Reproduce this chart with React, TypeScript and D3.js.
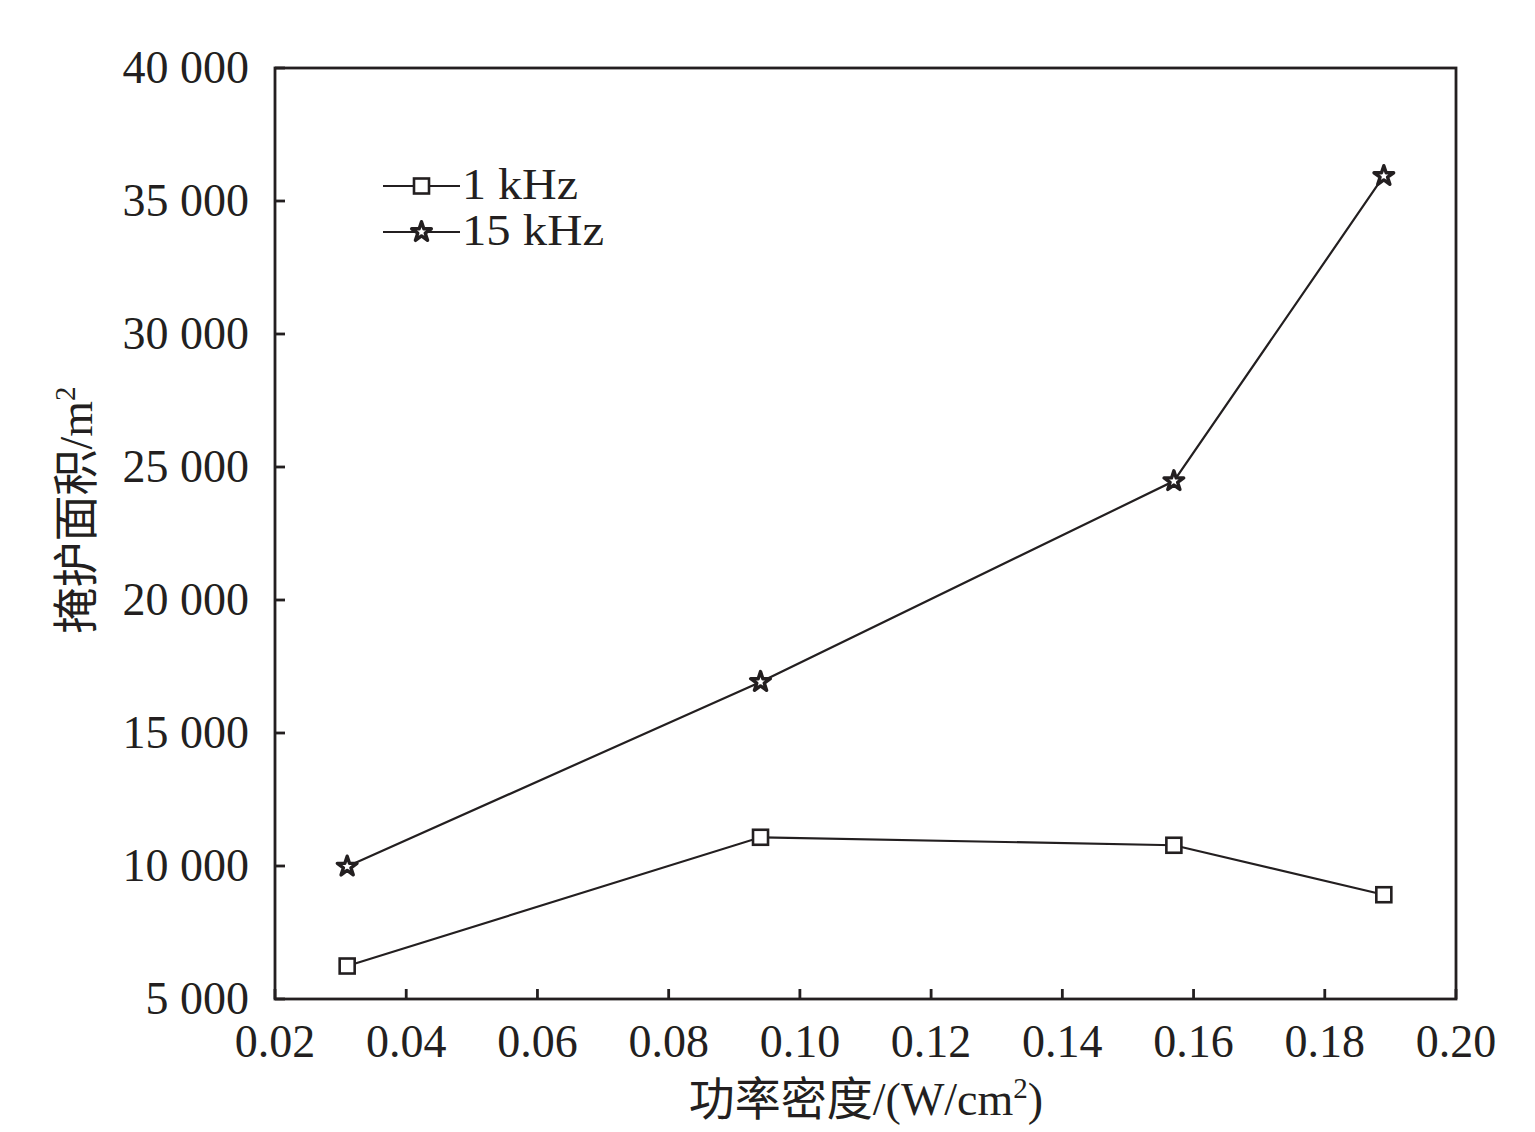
import React from "react";
import * as d3 from "d3";

const xValues = [0.031, 0.094, 0.157, 0.189];
const series1k = [6240, 11080, 10780, 8920];
const series15k = [9980, 16920, 24470, 35940];
const seriesNames = ["1 kHz", "15 kHz"];
const xTicks = [0.02, 0.04, 0.06, 0.08, 0.1, 0.12, 0.14, 0.16, 0.18, 0.2];
const yTicks = [5000, 10000, 15000, 20000, 25000, 30000, 35000, 40000];

const W = 1535, H = 1132;
const m = { left: 275, top: 68, right: 1456, bottom: 999 };
const font = "'Liberation Serif', 'Times New Roman', 'Noto Sans CJK SC', serif";
const ink = "#231f20";

function fmtY(v: number) {
  const s = String(v);
  return s.length > 3 ? s.slice(0, s.length - 3) + " " + s.slice(-3) : s;
}

function Square({ x, y }: { x: number; y: number }) {
  const s = 15;
  return <rect x={x - s / 2} y={y - s / 2} width={s} height={s} fill="#fff" stroke={ink} strokeWidth={2.6} />;
}

function Star({ x, y }: { x: number; y: number }) {
  const d = d3.symbol().type(d3.symbolStar).size(120)();
  return <path d={d || ""} transform={`translate(${x},${y})`} fill="#fff" stroke={ink} strokeWidth={3.4} strokeLinejoin="round" />;
}

export default function App() {
  const x = d3.scaleLinear().domain([0.02, 0.2]).range([m.left, m.right]);
  const y = d3.scaleLinear().domain([5000, 40000]).range([m.bottom, m.top]);
  const line = d3.line<[number, number]>().x(d => x(d[0])).y(d => y(d[1]));
  const d1 = xValues.map((v, i) => [v, series1k[i]] as [number, number]);
  const d2 = xValues.map((v, i) => [v, series15k[i]] as [number, number]);

  const legendX1 = 383, legendX2 = 460;
  const legendY = [186, 232];

  return (
    <svg width={W} height={H} style={{ display: "block", position: "absolute", left: 0, top: 0, background: "#fff" }} fontFamily={font}>
      <rect x={0} y={0} width={W} height={H} fill="#fff" />
      {/* frame */}
      <rect x={m.left} y={m.top} width={m.right - m.left} height={m.bottom - m.top} fill="none" stroke={ink} strokeWidth={2.8} />
      {/* x ticks */}
      {xTicks.map(t => (
        <g key={"x" + t}>
          <line x1={x(t)} x2={x(t)} y1={m.bottom} y2={m.bottom - 10} stroke={ink} strokeWidth={2.8} />
          <text x={x(t)} y={1057} textAnchor="middle" fontSize={46} fill={ink}>{t.toFixed(2)}</text>
        </g>
      ))}
      {/* y ticks */}
      {yTicks.map(t => (
        <g key={"y" + t}>
          <line x1={m.left} x2={m.left + 10} y1={y(t)} y2={y(t)} stroke={ink} strokeWidth={2.8} />
          <text x={249} y={y(t) + 15} textAnchor="end" fontSize={46} fill={ink}>{fmtY(t)}</text>
        </g>
      ))}
      {/* lines */}
      <path d={line(d1) || ""} fill="none" stroke={ink} strokeWidth={2.2} />
      <path d={line(d2) || ""} fill="none" stroke={ink} strokeWidth={2.2} />
      {d1.map((p, i) => <Square key={"s" + i} x={x(p[0])} y={y(p[1])} />)}
      {d2.map((p, i) => <Star key={"t" + i} x={x(p[0])} y={y(p[1])} />)}
      {/* legend */}
      {seriesNames.map((n, i) => (
        <g key={n}>
          <line x1={legendX1} x2={legendX2} y1={legendY[i]} y2={legendY[i]} stroke={ink} strokeWidth={2.2} />
          {i === 0 ? <Square x={(legendX1 + legendX2) / 2} y={legendY[i]} /> : <Star x={(legendX1 + legendX2) / 2} y={legendY[i]} />}
          <text x={462} y={legendY[i] + 13} fontSize={44} fill={ink} textLength={i === 0 ? 116 : 142} lengthAdjust="spacingAndGlyphs">{n}</text>
        </g>
      ))}
      {/* axis titles */}
      <text x={866} y={1115} textAnchor="middle" fontSize={46} fill={ink}>
        功率密度/(W/cm<tspan fontSize={29} dy={-17}>2</tspan><tspan dy={17}>)</tspan>
      </text>
      <text transform={`translate(92,510) rotate(-90)`} textAnchor="middle" fontSize={46} fill={ink}>
        掩护面积/m<tspan fontSize={29} dy={-17}>2</tspan>
      </text>
    </svg>
  );
}
